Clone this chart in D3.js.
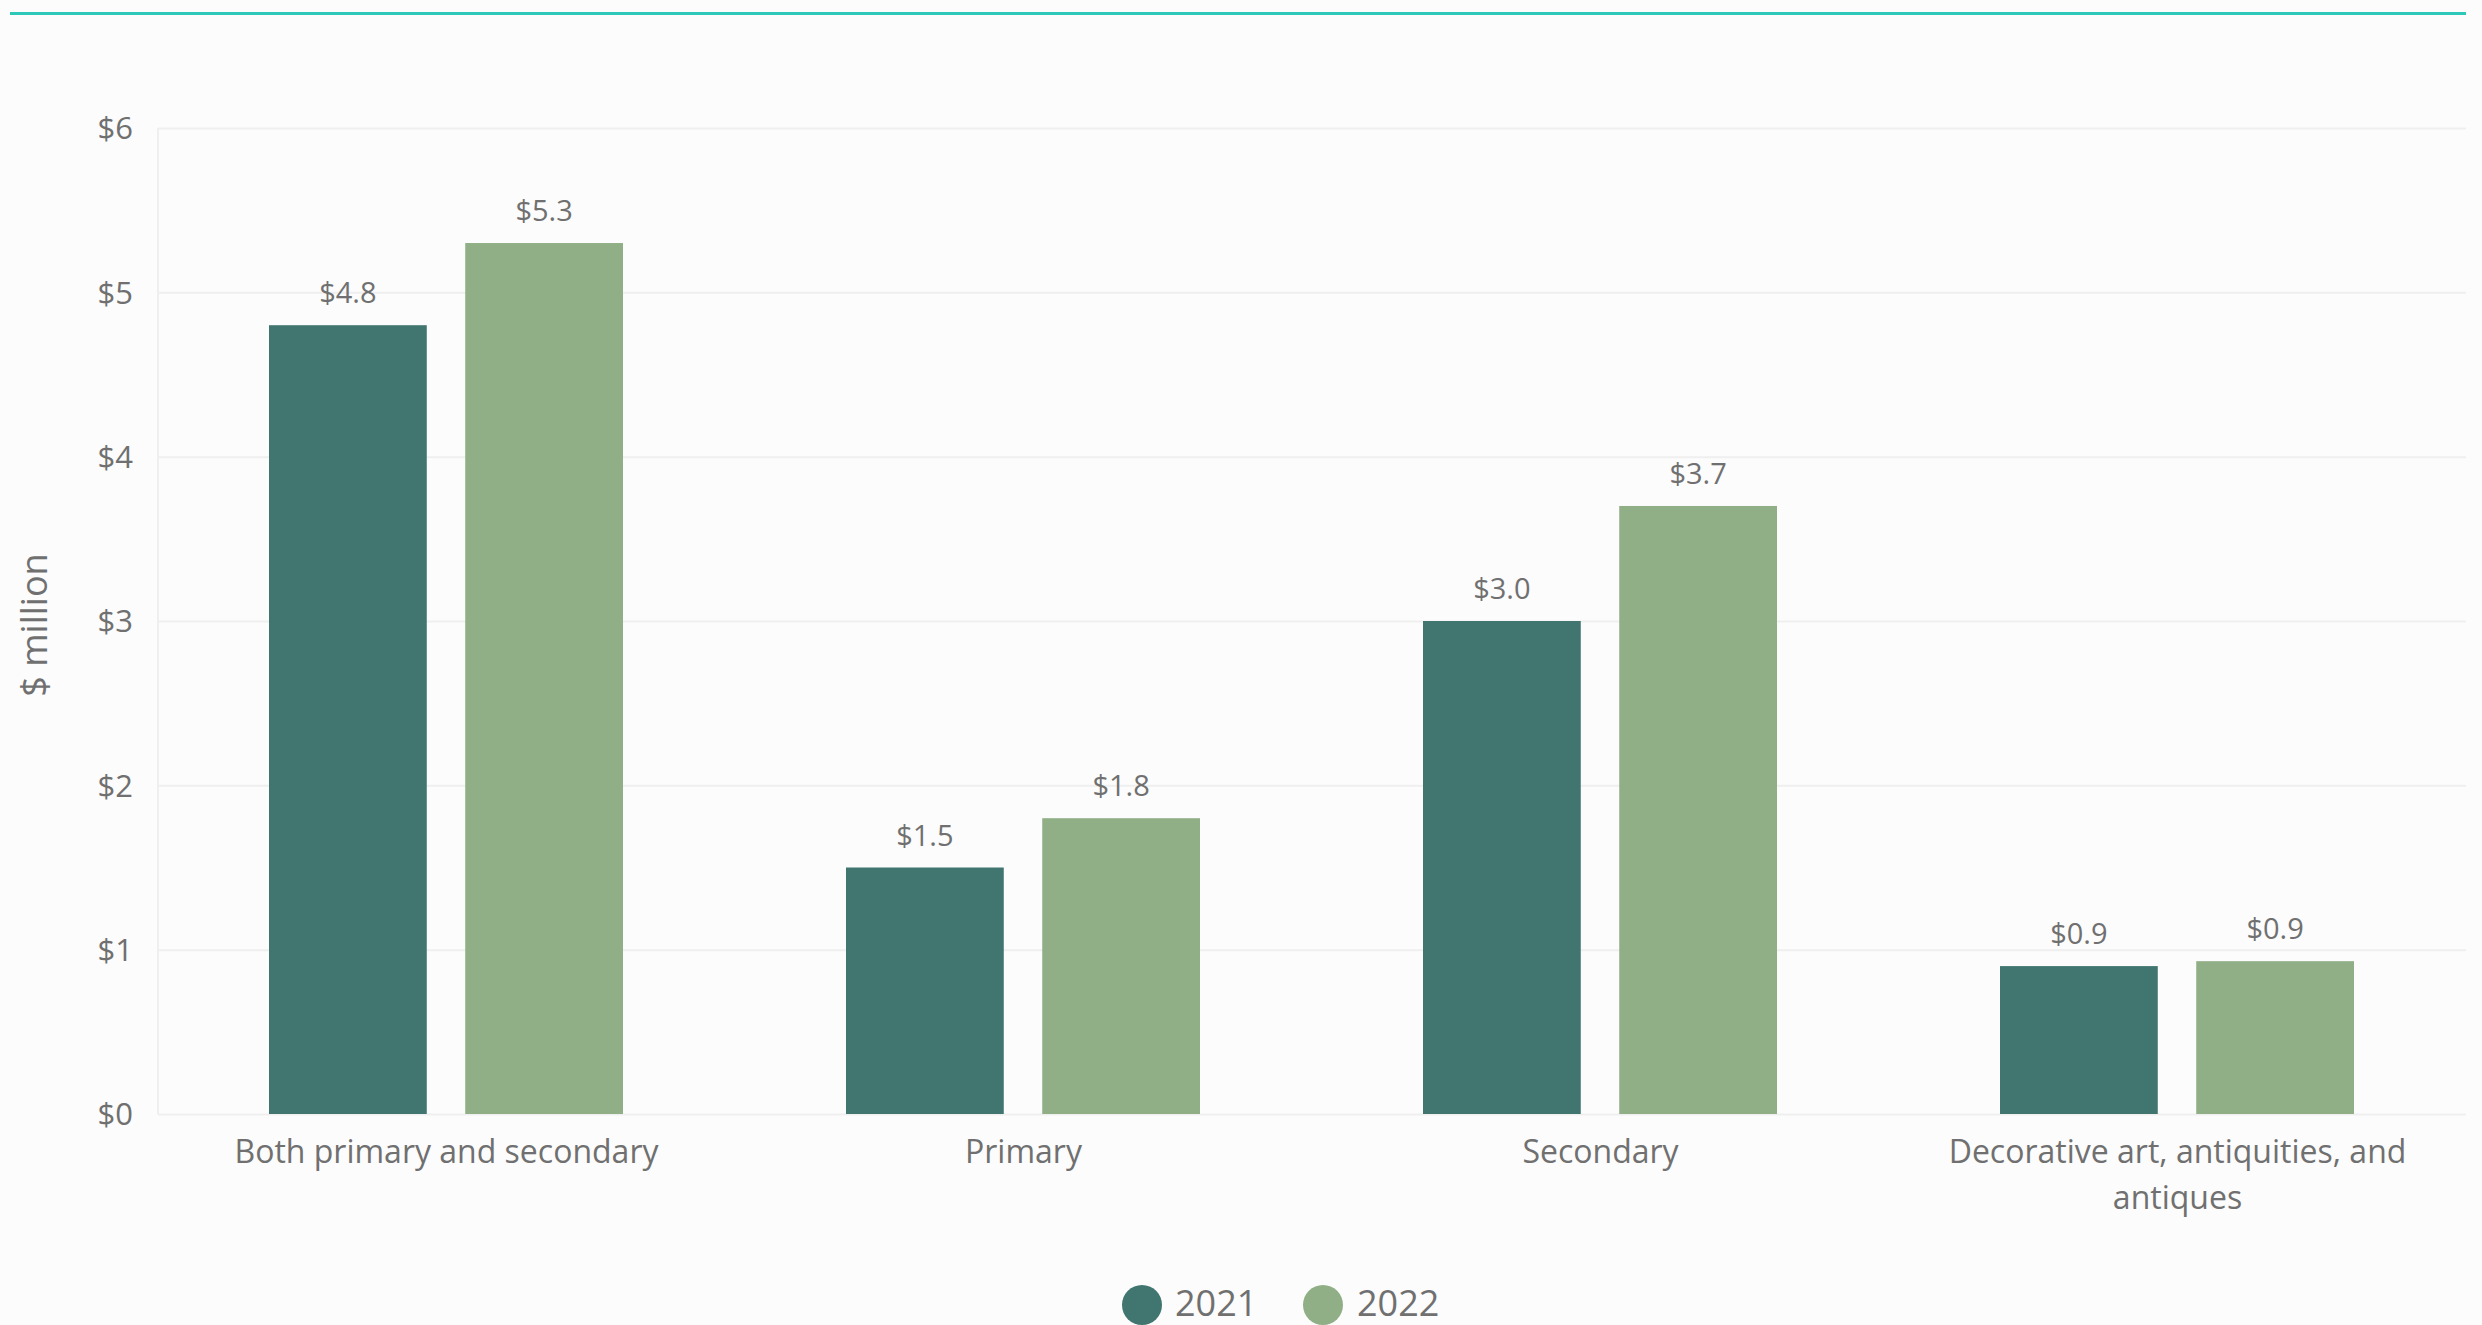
<!DOCTYPE html>
<html>
<head>
<meta charset="utf-8">
<script src="https://cdn.jsdelivr.net/npm/d3@7"></script>
<style>
  html, body { margin: 0; padding: 0; background: #fcfcfc; }
  svg { display: block; }
  text { font-family: "Open Sans", "Noto Sans", sans-serif; fill: #707070; }
</style>
</head>
<body>
<svg id="chart" width="2482" height="1325"></svg>
<script>
const categories = ["Both primary and secondary", "Primary", "Secondary", "Decorative art, antiquities, and antiques"];
const seriesNames = ["2021", "2022"];
const values2021 = [4.8, 1.5, 3.0, 0.9];
const values2022 = [5.3, 1.8, 3.7, 0.93];
const yTicks = [0, 1, 2, 3, 4, 5, 6];
const colors = ["#417570", "#90af86"];

const W = 2482, H = 1325;
const margin = { left: 158, right: 16, top: 128, bottom: 211 };
const svg = d3.select("#chart");

// top accent line
svg.append("line")
  .attr("x1", 10).attr("x2", 2466).attr("y1", 13.5).attr("y2", 13.5)
  .attr("stroke", "#2ec8b8").attr("stroke-width", 3);

const x0 = d3.scaleBand().domain(categories).range([margin.left, W - margin.right]).padding(0);
const x1 = d3.scaleBand().domain(seriesNames).range([111, 111 + 354]).paddingInner(0.196).paddingOuter(0);
const y = d3.scaleLinear().domain([0, 6]).range([H - margin.bottom, margin.top]);

// gridlines
const yAxis = d3.axisLeft(y).tickValues(yTicks).tickSize(-(W - margin.right - margin.left)).tickFormat(d => "$" + d);
const gy = svg.append("g").attr("transform", `translate(${margin.left},0)`).call(yAxis);
gy.select(".domain").remove();
gy.selectAll(".tick line").attr("stroke", "#efefef").attr("stroke-width", 2);
gy.selectAll(".tick text").attr("x", -25).attr("dy", "0.35em")
  .style("font-size", "31px").attr("fill", "#707070");

// left axis line
svg.append("line")
  .attr("x1", margin.left).attr("x2", margin.left)
  .attr("y1", y(6)).attr("y2", y(0))
  .attr("stroke", "#efefef").attr("stroke-width", 2);

// y axis title
svg.append("text")
  .attr("transform", `translate(47,${(y(0) + y(6)) / 2 + 4}) rotate(-90)`)
  .attr("text-anchor", "middle")
  .style("font-size", "36px")
  .text("$ million");

const rows = categories.map((c, i) => ({ cat: c, vals: [values2021[i], values2022[i]] }));

const groups = svg.append("g").selectAll("g").data(rows).join("g")
  .attr("transform", d => `translate(${x0(d.cat)},0)`);

groups.selectAll("rect").data(d => d.vals.map((v, j) => ({ s: seriesNames[j], v, j })))
  .join("rect")
  .attr("x", d => x1(d.s))
  .attr("width", x1.bandwidth())
  .attr("y", d => y(d.v))
  .attr("height", d => y(0) - y(d.v))
  .attr("fill", d => colors[d.j]);

groups.selectAll("text.val").data(d => d.vals.map((v, j) => ({ s: seriesNames[j], v, j })))
  .join("text").attr("class", "val")
  .attr("x", d => x1(d.s) + x1.bandwidth() / 2)
  .attr("y", d => y(d.v) - 22)
  .attr("text-anchor", "middle")
  .style("font-size", "29px")
  .text(d => "$" + d3.format(".1f")(d.v));

// category labels (wrapped)
const maxW = 480;
groups.each(function(d) {
  const g = d3.select(this);
  const t = g.append("text")
    .attr("text-anchor", "middle")
    .attr("x", x0.bandwidth() / 2)
    .attr("y", y(0) + 49)
    .style("font-size", "32px");
  const words = d.cat.split(" ");
  let line = [];
  let tspan = t.append("tspan").attr("x", x0.bandwidth() / 2).attr("dy", 0);
  for (const w of words) {
    line.push(w);
    tspan.text(line.join(" "));
    if (tspan.node().getComputedTextLength() > maxW && line.length > 1) {
      line.pop();
      tspan.text(line.join(" "));
      line = [w];
      tspan = t.append("tspan").attr("x", x0.bandwidth() / 2).attr("dy", 46).text(w);
    }
  }
});

// legend
const legend = svg.append("g");
const legendItems = [
  { name: seriesNames[0], color: colors[0], cx: 1142, tx: 1175 },
  { name: seriesNames[1], color: colors[1], cx: 1323, tx: 1357 }
];
legendItems.forEach(it => {
  legend.append("circle").attr("cx", it.cx).attr("cy", 1305).attr("r", 20).attr("fill", it.color);
  legend.append("text").attr("x", it.tx).attr("y", 1316).style("font-size", "36px").text(it.name);
});
</script>
</body>
</html>
